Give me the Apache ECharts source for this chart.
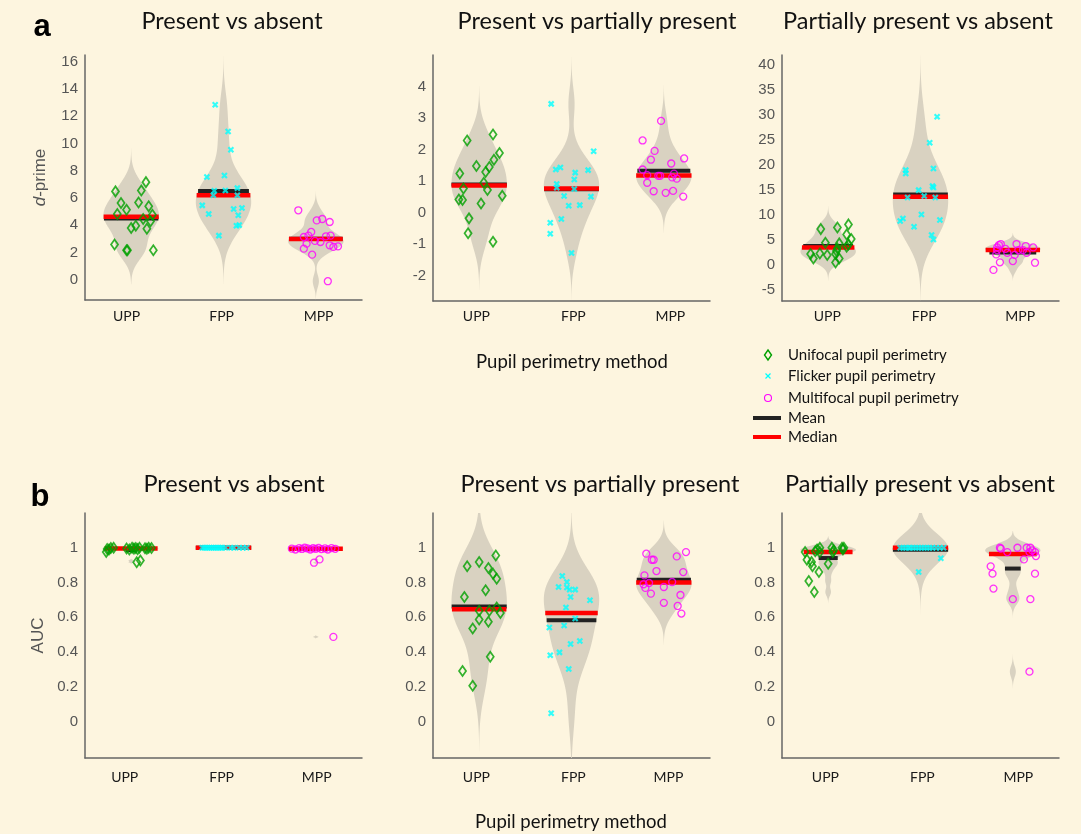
<!DOCTYPE html>
<html><head><meta charset="utf-8">
<script src="https://cdn.jsdelivr.net/npm/echarts@6/dist/echarts.min.js"></script>
<style>html,body{margin:0;padding:0;background:#FDF5DF;} #c{width:1081px;height:834px;}</style>
</head><body><div id="c"></div><script>
// ---------- labels ----------
const categories = ['UPP', 'FPP', 'MPP'];
const panelTitles = ['Present vs absent', 'Present vs partially present', 'Partially present vs absent'];
const methodNames = ['Unifocal pupil perimetry', 'Flicker pupil perimetry', 'Multifocal pupil perimetry'];
const statNames = ['Mean', 'Median'];
const xAxisTitle = 'Pupil perimetry method';
const panelLetters = ['a', 'b'];
const yNames = ['d-prime', 'AUC'];

// ---------- tick labels ----------
const ticksPA = [0, 2, 4, 6, 8, 10, 12, 14, 16];
const ticksPP = [-2, -1, 0, 1, 2, 3, 4];
const ticksPPA = [-5, 0, 5, 10, 15, 20, 25, 30, 35, 40];
const ticksAUC = [0, 0.2, 0.4, 0.6, 0.8, 1];

// ---------- d-prime: present vs absent ----------
const dPA_UPP = [6.48, 7.16, 6.55, 5.62, 5.67, 5.13, 4.82, 5.38, 4.77, 4.45, 4.28, 3.96, 3.79, 3.74, 2.57, 2.15, 2.15, 2.15];
const dPA_UPP_jit = [-0.17, 0.16, 0.11, -0.11, 0.08, -0.05, -0.15, 0.19, 0.23, 0.13, 0.21, 0.05, 0.0, 0.17, -0.18, -0.05, -0.04, 0.24];
const dPA_FPP = [12.84, 10.88, 9.54, 7.53, 7.65, 6.53, 6.19, 6.55, 6.72, 6.19, 5.45, 4.82, 5.18, 5.26, 4.72, 3.96, 4.00, 3.23];
const dPA_FPP_jit = [-0.09, 0.05, 0.08, -0.18, 0.01, -0.10, -0.11, 0.02, 0.15, 0.15, -0.23, -0.16, 0.11, 0.20, 0.16, 0.14, 0.17, -0.05];
const dPA_MPP = [5.09, 4.35, 4.45, 4.23, 3.50, 3.13, 3.23, 3.18, 3.23, 2.84, 2.76, 2.64, 2.52, 2.40, 2.44, 2.27, 1.83, -0.12];
const dPA_MPP_jit = [-0.19, 0.01, 0.07, 0.15, -0.05, -0.13, -0.08, 0.11, 0.16, -0.01, 0.05, -0.10, 0.15, 0.19, 0.24, -0.13, -0.04, 0.13];

// ---------- d-prime: present vs partially present ----------
const dPP_UPP = [2.29, 2.48, 1.89, 1.68, 1.48, 1.45, 1.29, 1.24, 0.95, 0.77, 0.72, 0.54, 0.42, 0.40, 0.29, -0.18, -0.65, -0.92];
const dPP_UPP_jit = [-0.13, 0.15, 0.22, 0.16, -0.03, 0.11, 0.07, -0.21, 0.05, -0.17, 0.09, 0.25, -0.22, -0.18, 0.02, -0.11, -0.12, 0.15];
const dPP_FPP = [3.45, 1.95, 1.43, 1.37, 1.35, 1.27, 1.05, 0.91, 0.79, 0.75, 0.53, 0.51, 0.22, 0.24, -0.20, -0.32, -0.67, -1.28];
const dPP_FPP_jit = [-0.22, 0.24, -0.12, -0.17, 0.18, 0.04, 0.03, -0.16, -0.16, 0.03, -0.08, 0.21, -0.03, 0.09, -0.11, -0.23, -0.23, 0.0];
const dPP_MPP = [2.91, 2.29, 1.96, 1.68, 1.72, 1.56, 1.37, 1.19, 1.17, 1.17, 1.24, 1.12, 1.08, 0.95, 0.68, 0.63, 0.69, 0.51];
const dPP_MPP_jit = [-0.03, -0.23, -0.10, -0.14, 0.22, 0.08, -0.23, -0.18, -0.06, -0.04, 0.11, 0.09, 0.14, -0.18, -0.11, 0.02, 0.10, 0.21];

// ---------- d-prime: partially present vs absent ----------
const dPPA_UPP = [7.15, 7.49, 8.09, 6.09, 5.16, 4.43, 4.30, 4.10, 3.63, 3.30, 2.80, 2.17, 2.30, 1.97, 2.17, 1.30, 1.30, 0.50];
const dPPA_UPP_jit = [-0.08, 0.10, 0.22, 0.20, 0.25, -0.03, 0.12, 0.22, 0.20, 0.10, 0.09, -0.19, -0.09, -0.01, 0.08, -0.16, 0.12, 0.08];
const dPPA_FPP = [29.56, 24.37, 19.26, 18.92, 18.26, 15.73, 15.47, 14.93, 13.74, 13.47, 13.47, 10.08, 8.95, 9.28, 8.75, 7.62, 5.96, 5.09];
const dPPA_FPP_jit = [0.18, 0.10, 0.14, -0.16, -0.16, 0.13, 0.14, -0.02, 0.04, -0.14, 0.16, 0.01, 0.21, -0.19, -0.22, -0.07, 0.12, 0.14];
const dPPA_MPP = [-1.00, 0.52, 2.10, 3.50, 3.97, 4.17, 2.43, 4.17, 2.97, 2.00, 0.77, 3.77, 2.43, 3.50, 0.44, 2.97, 2.97, 3.20];
const dPPA_MPP_jit = [-0.21, -0.14, -0.18, -0.17, -0.15, -0.13, -0.06, 0.04, 0.06, 0.02, 0.0, 0.14, 0.15, 0.22, 0.24, 0.11, -0.17, -0.08];

// ---------- AUC: present vs absent ----------
const aPA_UPP = [0.993, 0.998, 1.0, 0.996, 0.99, 1.0, 0.995, 0.998, 0.992, 1.0, 0.997, 0.994, 1.0, 0.998, 0.99, 0.975, 0.917, 0.927];
const aPA_UPP_jit = [-0.26, -0.22, -0.19, -0.05, -0.02, 0.01, 0.03, 0.05, 0.07, 0.09, 0.15, 0.17, 0.19, 0.22, -0.24, -0.27, 0.06, 0.10];
const aPA_FPP = [1, 1, 1, 1, 1, 1, 1, 1, 1, 1, 1, 1, 1, 1, 1, 1, 1, 1];
const aPA_FPP_jit = [-0.23, -0.21, -0.19, -0.17, -0.15, -0.13, -0.11, -0.09, -0.07, -0.05, -0.03, -0.01, 0.02, 0.08, 0.11, 0.17, 0.21, 0.25];
const aPA_MPP = [0.995, 0.99, 0.998, 0.993, 1.0, 0.996, 0.99, 0.997, 0.994, 0.999, 0.992, 0.996, 0.99, 0.998, 0.994, 0.914, 0.933, 0.487];
const aPA_MPP_jit = [-0.26, -0.22, -0.18, -0.15, -0.12, -0.09, -0.06, -0.03, 0.0, 0.03, 0.06, 0.10, 0.13, 0.17, 0.21, -0.02, 0.04, 0.19];

// ---------- AUC: present vs partially present ----------
const aPP_UPP = [0.956, 0.893, 0.918, 0.883, 0.851, 0.822, 0.755, 0.717, 0.637, 0.637, 0.656, 0.625, 0.587, 0.574, 0.535, 0.373, 0.291, 0.206];
const aPP_UPP_jit = [0.18, -0.13, 0.0, 0.10, 0.15, 0.19, 0.07, -0.16, 0.0, 0.11, 0.19, 0.23, 0.0, 0.10, -0.07, 0.12, -0.18, -0.07];
const aPP_FPP = [0.837, 0.774, 0.803, 0.771, 0.759, 0.759, 0.717, 0.698, 0.656, 0.593, 0.553, 0.541, 0.463, 0.446, 0.398, 0.381, 0.302, 0.048];
const aPP_FPP_jit = [-0.10, -0.14, -0.05, -0.05, -0.02, 0.04, -0.01, 0.20, -0.06, 0.04, -0.08, -0.24, 0.09, -0.01, -0.13, -0.23, -0.03, -0.22];
const aPP_MPP = [0.975, 0.966, 0.950, 0.931, 0.931, 0.866, 0.860, 0.841, 0.803, 0.797, 0.790, 0.769, 0.774, 0.736, 0.728, 0.683, 0.665, 0.621];
const aPP_MPP_jit = [0.24, -0.19, 0.14, -0.13, -0.11, -0.08, 0.21, -0.21, 0.09, -0.16, -0.22, -0.20, 0.0, -0.14, 0.18, 0.0, 0.15, 0.19];

// ---------- AUC: partially present vs absent ----------
const aPPA_UPP = [0.975, 0.931, 0.918, 0.893, 0.860, 0.908, 0.809, 0.745, 0.980, 1.0, 0.975, 1.0, 0.975, 1.0, 1.0, 0.990, 0.985, 0.990];
const aPPA_UPP_jit = [-0.25, -0.23, -0.18, -0.17, -0.10, 0.0, -0.21, -0.15, -0.14, -0.09, -0.09, 0.04, 0.05, 0.15, 0.17, -0.12, 0.06, 0.16];
const aPPA_FPP = [1, 1, 1, 1, 1, 1, 1, 1, 1, 1, 1, 1, 1, 1, 1, 1, 0.94, 0.86];
const aPPA_FPP_jit = [-0.22, -0.19, -0.16, -0.13, -0.11, -0.08, -0.05, -0.02, 0.01, 0.04, 0.07, 0.10, 0.13, 0.17, 0.21, 0.25, 0.22, -0.02];
const aPPA_MPP = [1.0, 0.995, 0.975, 1.0, 1.0, 1.0, 0.975, 0.975, 0.952, 0.933, 0.893, 0.851, 0.851, 0.765, 0.704, 0.704, 0.287, 0.985];
const aPPA_MPP_jit = [-0.14, -0.13, -0.06, 0.05, 0.15, 0.19, 0.18, 0.24, 0.25, 0.12, -0.24, -0.22, 0.24, -0.21, 0.0, 0.19, 0.18, 0.21];

// ---------- styles & layout ----------
const BG = '#FDF5DF';
const VIOLIN_FILL = '#D9D2C1';
const METHOD_COLORS = ['#00A000', '#00FFFF', '#FF00FF'];
const MEAN_COLOR = '#222222';
const MEDIAN_COLOR = '#FF0000';
const VIOLIN_W = 0.3;
const LABEL_FONT = 'Lato';
const TICK_FONT = 'Liberation Sans';

const panels = [
  { groups: [[dPA_UPP, dPA_UPP_jit], [dPA_FPP, dPA_FPP_jit], [dPA_MPP, dPA_MPP_jit]], yMin: -1.5, yMax: 16.5, ticks: ticksPA,
    rect: { left: 85, top: 55, width: 277, height: 245 }, labelPos: [0.95, 1.98, 3.03], labelMargin: 9 },
  { groups: [[dPP_UPP, dPP_UPP_jit], [dPP_FPP, dPP_FPP_jit], [dPP_MPP, dPP_MPP_jit]], yMin: -2.8, yMax: 5.0, ticks: ticksPP,
    rect: { left: 433, top: 55, width: 277, height: 246 }, labelPos: [0.97, 2.02, 3.07], labelMargin: 8 },
  { groups: [[dPPA_UPP, dPPA_UPP_jit], [dPPA_FPP, dPPA_FPP_jit], [dPPA_MPP, dPPA_MPP_jit]], yMin: -7.2, yMax: 41.9, ticks: ticksPPA,
    rect: { left: 782, top: 55, width: 277, height: 246 }, labelPos: [0.99, 2.04, 3.08], labelMargin: 8 },
  { groups: [[aPA_UPP, aPA_UPP_jit], [aPA_FPP, aPA_FPP_jit], [aPA_MPP, aPA_MPP_jit]], yMin: -0.21, yMax: 1.2, ticks: ticksAUC,
    rect: { left: 85, top: 513, width: 277, height: 245 }, labelPos: [0.93, 1.98, 3.01], labelMargin: 12 },
  { groups: [[aPP_UPP, aPP_UPP_jit], [aPP_FPP, aPP_FPP_jit], [aPP_MPP, aPP_MPP_jit]], yMin: -0.21, yMax: 1.2, ticks: ticksAUC,
    rect: { left: 433, top: 513, width: 277, height: 245 }, labelPos: [0.97, 2.02, 3.05], labelMargin: 12 },
  { groups: [[aPPA_UPP, aPPA_UPP_jit], [aPPA_FPP, aPPA_FPP_jit], [aPPA_MPP, aPPA_MPP_jit]], yMin: -0.21, yMax: 1.2, ticks: ticksAUC,
    rect: { left: 782, top: 513, width: 277, height: 245 }, labelPos: [0.97, 2.02, 3.06], labelMargin: 12 }
];

// ---------- statistics ----------
function median(a) { const s = a.slice().sort((x, y) => x - y); const n = s.length; return n % 2 ? s[(n - 1) / 2] : (s[n / 2 - 1] + s[n / 2]) / 2; }
function mean(a) { return a.reduce((s, v) => s + v, 0) / a.length; }
// Gaussian kernel density with the normal-reference (MAD based) bandwidth; evaluated over data range +- 3 bw
function kde(vals) {
  const n = vals.length, lo0 = Math.min(...vals), hi0 = Math.max(...vals);
  const med = median(vals);
  let sig = median(vals.map(v => Math.abs(v - med))) / 0.6745;
  if (!(sig > 0)) sig = hi0 - lo0;
  if (!(sig > 0)) return null;
  const bw = sig * Math.pow(4 / (3 * n), 0.2);
  const lo = lo0 - 3 * bw, hi = hi0 + 3 * bw, N = 300;
  const ys = [], ds = [];
  for (let i = 0; i < N; i++) {
    const y = lo + (hi - lo) * i / (N - 1);
    let d = 0;
    for (const v of vals) { const z = (y - v) / bw; d += Math.exp(-0.5 * z * z); }
    ys.push(y); ds.push(d);
  }
  const m = Math.max(...ds);
  return { ys, ds: ds.map(d => d / m) };
}
function densityAt(prof, y) {
  if (!prof) return 1;
  const ys = prof.ys, ds = prof.ds;
  if (y <= ys[0] || y >= ys[ys.length - 1]) return 0;
  const step = ys[1] - ys[0];
  const i = Math.min(ys.length - 2, Math.floor((y - ys[0]) / step));
  const t = (y - ys[i]) / step;
  return ds[i] * (1 - t) + ds[i + 1] * t;
}

const symbols = [
  { symbol: 'diamond', symbolSize: [7, 10], itemStyle: { color: 'rgba(0,0,0,0)', borderColor: METHOD_COLORS[0], borderWidth: 1.8 } },
  { symbol: 'path://M0,0L10,10M10,0L0,10', symbolSize: 5, itemStyle: { color: 'rgba(0,0,0,0)', borderColor: METHOD_COLORS[1], borderWidth: 2.2 } },
  { symbol: 'circle', symbolSize: 7, itemStyle: { color: 'rgba(0,0,0,0)', borderColor: METHOD_COLORS[2], borderWidth: 1.3 } }
];

const grid = [], xAxis = [], yAxis = [], series = [];
panels.forEach((p, pi) => {
  grid.push(Object.assign({ containLabel: false }, p.rect));
  xAxis.push({
    type: 'value', gridIndex: pi, min: 0.5, max: 3.5,
    axisLine: { show: true, onZero: false, lineStyle: { color: '#666', width: 1.5 } },
    axisTick: { show: false }, splitLine: { show: false },
    axisLabel: { customValues: p.labelPos, formatter: v => categories[Math.round(v) - 1], color: '#1a1a1a',
      fontFamily: LABEL_FONT, fontSize: 14, margin: p.labelMargin }
  });
  const y = {
    type: 'value', gridIndex: pi, min: p.yMin, max: p.yMax,
    axisLine: { show: true, onZero: false, lineStyle: { color: '#666', width: 1.5 } },
    axisTick: { show: false }, splitLine: { show: false },
    axisLabel: { customValues: p.ticks, color: '#555', fontFamily: TICK_FONT, fontSize: 15, margin: 7 }
  };
  if (pi === 0 || pi === 3) {
    const isD = pi === 0;
    y.name = isD ? '{i|d}-prime' : yNames[1];
    y.nameLocation = 'middle'; y.nameRotate = 90; y.nameGap = isD ? 36 : 38;
    y.nameTextStyle = { color: '#555', fontFamily: TICK_FONT, fontSize: 17,
      rich: { i: { fontStyle: 'italic', color: '#555', fontFamily: TICK_FONT, fontSize: 17 } } };
  }
  yAxis.push(y);

  const groups = p.groups.map(g => ({ vals: g[0], jit: g[1] }));
  const profs = groups.map(g => kde(g.vals));
  const pos = [1, 2, 3];

  series.push({
    type: 'custom', xAxisIndex: pi, yAxisIndex: pi, clip: true, z: 1, silent: true,
    data: pos.map(x => [x, 0]),
    renderItem: (params, api) => {
      const prof = profs[params.dataIndex];
      if (!prof) return { type: 'group', children: [] };
      const x0 = api.value(0);
      const right = prof.ys.map((yy, i) => api.coord([x0 + prof.ds[i] * VIOLIN_W, yy]));
      const left = prof.ys.map((yy, i) => api.coord([x0 - prof.ds[i] * VIOLIN_W, yy])).reverse();
      return { type: 'polygon', shape: { points: right.concat(left) }, style: { fill: VIOLIN_FILL } };
    }
  });

  [['mean', MEAN_COLOR, 2, 4], ['median', MEDIAN_COLOR, 3, 4.5]].forEach(([kind, color, z, lw]) => {
    series.push({
      type: 'custom', name: kind === 'mean' ? statNames[0] : statNames[1],
      xAxisIndex: pi, yAxisIndex: pi, clip: true, z: z, silent: true,
      data: groups.map((g, gi) => {
        const v = kind === 'mean' ? mean(g.vals) : median(g.vals);
        return [pos[gi], v, VIOLIN_W * densityAt(profs[gi], v)];
      }),
      renderItem: (params, api) => {
        const x = api.value(0), yv = api.value(1), hw = api.value(2);
        const a = api.coord([x - hw, yv]), b = api.coord([x + hw, yv]);
        return { type: 'line', shape: { x1: a[0], y1: a[1], x2: b[0], y2: b[1] }, style: { stroke: color, lineWidth: lw } };
      }
    });
  });

  groups.forEach((g, gi) => {
    series.push(Object.assign({
      type: 'scatter', name: methodNames[gi], xAxisIndex: pi, yAxisIndex: pi, z: 5, silent: true,
      data: g.vals.map((v, k) => [pos[gi] + g.jit[k], v])
    }, symbols[gi]));
  });
});

// ---------- free text & legend ----------
const graphic = [];
function txt(text, x, y, font, fill, align) {
  graphic.push({ type: 'text', x: x, y: y, silent: true,
    style: { text: text, font: font, fill: fill || '#111', align: align || 'center', verticalAlign: 'middle' } });
}
txt(panelLetters[0], 42, 27, 'bold 31px "Liberation Sans"', '#000');
txt(panelLetters[1], 40, 497, 'bold 31px "Liberation Sans"', '#000');
const titleX = [[232, 597, 918], [234, 600, 920]];
const titleY = [21, 484];
[0, 1].forEach(r => panelTitles.forEach((t, c) => txt(t, titleX[r][c], titleY[r], '23.5px Lato', '#111')));
txt(xAxisTitle, 572, 362, '18.5px Lato', '#111');
txt(xAxisTitle, 571, 822, '18.5px Lato', '#111');

const lgX = 768, lgTextX = 788, lgY = [355, 376, 398, 418, 437];
graphic.push({ type: 'polygon', silent: true, shape: { points: [[lgX, lgY[0] - 5], [lgX + 3.5, lgY[0]], [lgX, lgY[0] + 5], [lgX - 3.5, lgY[0]]] },
  style: { fill: 'none', stroke: METHOD_COLORS[0], lineWidth: 1.4 } });
graphic.push({ type: 'line', silent: true, shape: { x1: lgX - 2.5, y1: lgY[1] - 2.5, x2: lgX + 2.5, y2: lgY[1] + 2.5 }, style: { stroke: METHOD_COLORS[1], lineWidth: 1.3 } });
graphic.push({ type: 'line', silent: true, shape: { x1: lgX - 2.5, y1: lgY[1] + 2.5, x2: lgX + 2.5, y2: lgY[1] - 2.5 }, style: { stroke: METHOD_COLORS[1], lineWidth: 1.3 } });
graphic.push({ type: 'circle', silent: true, shape: { cx: lgX, cy: lgY[2], r: 3.5 }, style: { fill: 'none', stroke: METHOD_COLORS[2], lineWidth: 1.1 } });
graphic.push({ type: 'line', silent: true, shape: { x1: 753, y1: lgY[3], x2: 781, y2: lgY[3] }, style: { stroke: MEAN_COLOR, lineWidth: 4 } });
graphic.push({ type: 'line', silent: true, shape: { x1: 753, y1: lgY[4], x2: 781, y2: lgY[4] }, style: { stroke: MEDIAN_COLOR, lineWidth: 4 } });
methodNames.concat(statNames).forEach((t, i) => txt(t, lgTextX, lgY[i], '15px Lato', '#111', 'left'));

const chart = echarts.init(document.getElementById('c'), null, { renderer: 'canvas' });
chart.setOption({
  backgroundColor: BG, animation: false,
  grid: grid, xAxis: xAxis, yAxis: yAxis, series: series, graphic: graphic
});
</script></body></html>
